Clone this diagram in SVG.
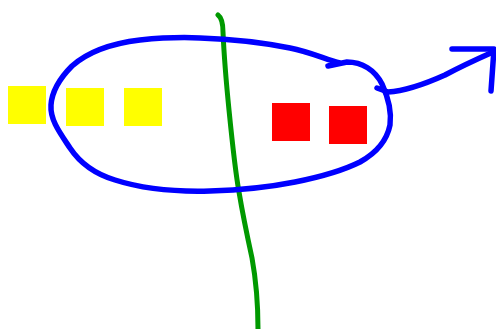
<svg xmlns="http://www.w3.org/2000/svg" width="496" height="329" viewBox="0 0 496 329">
<style>
.blue{fill:none;stroke:#0000ff;stroke-width:5.5;stroke-linecap:round;stroke-linejoin:round}
.green{fill:none;stroke:#009900;stroke-width:5;stroke-linecap:round}
.y{fill:#ffff00}
.r{fill:#ff0000}
</style>
<rect width="496" height="329" fill="#ffffff"/>
<g id="line">
<path class="green" d="M218,15 C222,18 223,24 223,32 C224,55 226,80 229,110 C232,140 235,170 239,192 C242,210 247,235 252,258 C256,280 258,300 258,329"/>
</g>
<g id="yellow1"><rect class="y" x="8" y="86" width="38" height="38"/></g>
<g id="yellow2"><rect class="y" x="66" y="88" width="38" height="38"/></g>
<g id="yellow3"><rect class="y" x="124" y="88" width="38" height="38"/></g>
<g id="red1"><rect class="r" x="272" y="103" width="38" height="38"/></g>
<g id="red2"><rect class="r" x="329" y="106" width="38" height="38"/></g>
<g id="connectors">
<path class="blue" d="M328,66 L347,62 C362,62 375,70 382,84 C388,97 392,110 390,125 C387,140 378,152 360,162 C340,172 315,178 295,182 C270,187 245,190 210,191 C175,192 140,188 115,180 C95,174 80,163 70,148 C60,133 50,120 51,105 C52,90 60,78 72,66 C90,50 115,43 140,40 C160,38 180,37 200,38 C230,39 260,42 290,48 C310,52 325,59 340,63"/>
<path class="blue" d="M377,88 L388,92 C405,91 425,84 445,75 C460,67 475,60 493,52"/>
<path class="blue" d="M452,49 L494,49 L491,91"/>
</g>
</svg>
